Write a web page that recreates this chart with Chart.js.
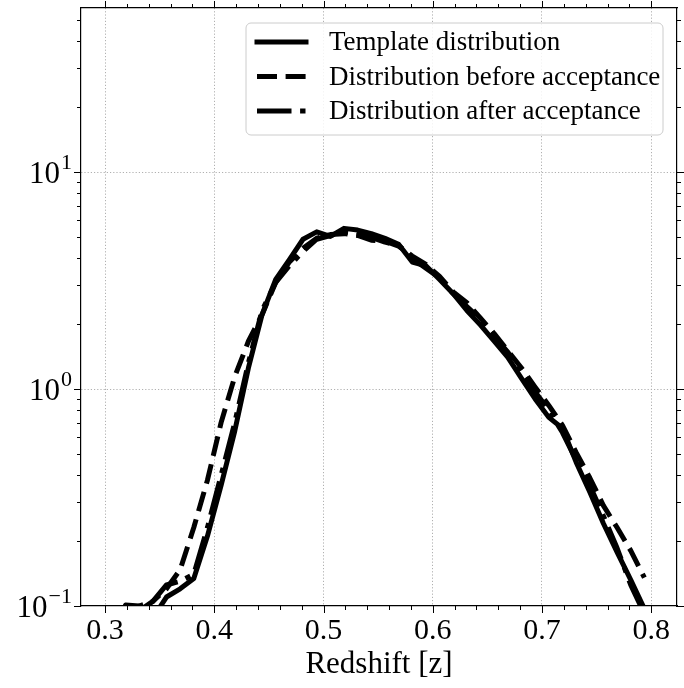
<!DOCTYPE html>
<html lang="en">
<head>
  <meta charset="UTF-8" />
  <title>Redshift distributions</title>
  <script src="https://cdn.jsdelivr.net/npm/chart.js"></script>
  <style>
    html, body { margin: 0; padding: 0; background: #fff; }
    #wrap { width: 684px; height: 688px; }
  </style>
</head>
<body>
  <div id="wrap"><canvas id="zChart" width="684" height="688"></canvas></div>

  <script>
    // bin centres in redshift
    const zBins = [0.30625, 0.31875, 0.33125, 0.34375, 0.35625, 0.36875, 0.38125, 0.39375,
      0.40625, 0.41875, 0.43125, 0.44375, 0.45625, 0.46875, 0.48125, 0.49375,
      0.50625, 0.51875, 0.53125, 0.54375, 0.55625, 0.56875, 0.58125, 0.59375,
      0.60625, 0.61875, 0.63125, 0.64375, 0.65625, 0.66875, 0.68125, 0.69375,
      0.70625, 0.71875, 0.73125, 0.74375, 0.75625, 0.76875, 0.78125, 0.79375];

    const templateDist = [0.07, 0.101, 0.100, 0.088, 0.11, 0.12, 0.134, 0.21,
      0.36, 0.64, 1.25, 2.2, 3.2, 3.95, 4.9, 5.3,
      5.05, 5.5, 5.4, 5.2, 4.95, 4.65, 3.85, 3.7,
      3.2, 2.75, 2.3, 1.97, 1.66, 1.40, 1.12, 0.90,
      0.74, 0.66, 0.46, 0.335, 0.24, 0.177, 0.132, 0.097];

    const beforeAcc = [0.06, 0.08, 0.095, 0.105, 0.12, 0.147, 0.23, 0.38,
      0.70, 1.14, 1.66, 2.2, 3.1, 3.85, 4.45, 4.95,
      5.15, 5.2, 5.1, 4.85, 4.8, 4.55, 4.1, 3.75,
      3.3, 2.8, 2.5, 2.12, 1.8, 1.5, 1.25, 1.02,
      0.84, 0.68, 0.51, 0.39, 0.29, 0.23, 0.18, 0.135];

    const afterAcc = [0.07, 0.09, 0.10, 0.105, 0.125, 0.13, 0.14, 0.23,
      0.40, 0.70, 1.32, 2.3, 3.1, 3.7, 4.3, 4.9,
      5.1, 5.3, 5.2, 5.0, 4.75, 4.6, 4.0, 3.6,
      3.25, 2.75, 2.4, 2.1, 1.75, 1.48, 1.2, 0.97,
      0.8, 0.63, 0.47, 0.36, 0.26, 0.185, 0.125, 0.092];

    const seriesNames = ["Template distribution", "Distribution before acceptance", "Distribution after acceptance"];
    const xTickLabels = ["0.3", "0.4", "0.5", "0.6", "0.7", "0.8"];
    const yTickExponents = ["\u22121", "0", "1"];   // 10^-1, 10^0, 10^1

    const SERIF = "'Liberation Serif', 'Times New Roman', serif";
    const X_MIN = 0.278, X_MAX = 0.8236;
    const Y_MIN = 0.1, Y_MAX = 57;
    const LW = 5;

    function pts(ys) {
      return zBins.map((z, i) => ({ x: z, y: ys[i] }));
    }

    function isMultiple(v, step) {
      const k = Math.round(v / step);
      return Math.abs(v - k * step) < 1e-7;
    }

    // outward tick marks on all four sides, long at majors, short at minors
    const tickMarks = {
      id: 'tickMarks',
      afterDraw(chart) {
        const { ctx, chartArea: a, scales: { x, y } } = chart;
        ctx.save();
        ctx.strokeStyle = '#000';
        ctx.lineWidth = 1;
        ctx.beginPath();
        x.ticks.forEach(t => {
          if (!isMultiple(t.value, 0.02)) return;
          const len = isMultiple(t.value, 0.1) ? 7 : 4;
          const px = Math.round(x.getPixelForValue(t.value)) + 0.5;
          ctx.moveTo(px, a.bottom); ctx.lineTo(px, a.bottom + len);
          ctx.moveTo(px, a.top); ctx.lineTo(px, a.top - len);
        });
        y.ticks.forEach(t => {
          const e = Math.floor(Math.log10(t.value) + 1e-9);
          const m = t.value / Math.pow(10, e);
          if (Math.abs(m - Math.round(m)) > 1e-6) return;
          const len = Math.round(m) === 1 ? 7 : 4;
          const py = Math.round(y.getPixelForValue(t.value)) + 0.5;
          ctx.moveTo(a.left, py); ctx.lineTo(a.left - len, py);
          ctx.moveTo(a.right, py); ctx.lineTo(a.right + len, py);
        });
        ctx.stroke();

        // y labels 10^n
        ctx.fillStyle = '#000';
        ctx.textBaseline = 'middle';
        ctx.textAlign = 'right';
        [0.1, 1, 10].forEach((v, i) => {
          const py = y.getPixelForValue(v);
          const right = a.left - 9;
          ctx.font = '22px ' + SERIF;
          const expText = yTickExponents[i];
          const ew = ctx.measureText(expText).width;
          ctx.fillText(expText, right, py - 9);
          ctx.font = '31px ' + SERIF;
          ctx.fillText('10', right - ew - 1, py + 3);
        });
        ctx.restore();
      }
    };

    // framed legend in the upper right of the plot area
    const boxLegend = {
      id: 'boxLegend',
      afterDraw(chart) {
        const { ctx, chartArea: a } = chart;
        const sets = chart.data.datasets;
        ctx.save();
        ctx.font = '27px ' + SERIF;
        const lineLen = 49, gap = 23, padL = 11, rowH = 34.5;
        const w = 417, h = 112;
        const x0 = a.right - 14 - w;
        const y0 = a.top + 15;
        ctx.beginPath();
        ctx.roundRect(x0, y0, w, h, 5);
        ctx.fillStyle = 'rgba(255,255,255,0.85)';
        ctx.fill();
        ctx.strokeStyle = '#cccccc';
        ctx.lineWidth = 1;
        ctx.stroke();
        sets.forEach((ds, i) => {
          const cy = y0 + 19 + rowH * i;
          ctx.beginPath();
          ctx.setLineDash(ds.borderDash || []);
          ctx.lineWidth = ds.borderWidth;
          ctx.strokeStyle = '#000';
          ctx.lineCap = ds.borderCapStyle;
          ctx.moveTo(x0 + padL, cy);
          ctx.lineTo(x0 + padL + lineLen, cy);
          ctx.stroke();
          ctx.setLineDash([]);
          ctx.fillStyle = '#000';
          ctx.textAlign = 'left';
          ctx.textBaseline = 'middle';
          ctx.fillText(ds.label, x0 + padL + lineLen + gap, cy + 1);
        });
        ctx.restore();
      }
    };

    const lineStyle = {
      borderColor: '#000',
      backgroundColor: '#000',
      borderWidth: LW,
      pointRadius: 0,
      tension: 0,
      fill: false,
      borderJoinStyle: 'round'
    };

    new Chart(document.getElementById('zChart').getContext('2d'), {
      type: 'line',
      data: {
        datasets: [
          Object.assign({ label: seriesNames[0], data: pts(templateDist), borderDash: [], borderCapStyle: 'square' }, lineStyle),
          Object.assign({ label: seriesNames[1], data: pts(beforeAcc), borderDash: [20, 8.6], borderCapStyle: 'butt' }, lineStyle),
          Object.assign({ label: seriesNames[2], data: pts(afterAcc), borderDash: [34.5, 8.6, 5.4, 8.6], borderCapStyle: 'butt' }, lineStyle)
        ]
      },
      options: {
        responsive: false,
        animation: false,
        devicePixelRatio: 1,
        layout: { padding: 0 },
        plugins: {
          legend: { display: false },
          tooltip: { enabled: false }
        },
        scales: {
          x: {
            type: 'linear',
            position: 'bottom',
            min: X_MIN,
            max: X_MAX,
            afterFit: s => { s.height = 82; },
            ticks: {
              stepSize: 0.02,
              autoSkip: false,
              maxRotation: 0,
              padding: 7,
              color: '#000',
              font: { family: SERIF, size: 30 },
              callback: v => isMultiple(v, 0.1) ? xTickLabels[Math.round(v * 10) - 3] : ''
            },
            grid: {
              drawTicks: false,
              lineWidth: 1,
              color: c => (c.tick && isMultiple(c.tick.value, 0.1)) ? '#b0b0b0' : 'rgba(0,0,0,0)'
            },
            border: { display: true, color: '#000', width: 1.2, dash: [1.2, 2] },
            title: {
              display: true,
              text: 'Redshift [z]',
              color: '#000',
              font: { family: SERIF, size: 31 },
              padding: { top: 0, bottom: 5 }
            }
          },
          y: {
            type: 'logarithmic',
            position: 'left',
            min: Y_MIN,
            max: Y_MAX,
            afterFit: s => { s.width = 81; },
            ticks: { display: false, autoSkip: false },
            grid: {
              drawTicks: false,
              lineWidth: 1,
              color: c => {
                if (!c.tick) return 'rgba(0,0,0,0)';
                const v = c.tick.value;
                return (Math.abs(v - 1) < 1e-9 || Math.abs(v - 10) < 1e-9) ? '#b0b0b0' : 'rgba(0,0,0,0)';
              }
            },
            border: { display: true, color: '#000', width: 1.2, dash: [1.2, 2] }
          },
          xTop: {
            type: 'linear',
            position: 'top',
            min: X_MIN,
            max: X_MAX,
            afterFit: s => { s.height = 8; },
            ticks: { display: false },
            grid: { display: false, drawTicks: false },
            border: { display: true, color: '#000', width: 1.2 }
          },
          yRight: {
            type: 'logarithmic',
            position: 'right',
            min: Y_MIN,
            max: Y_MAX,
            afterFit: s => { s.width = 3; },
            ticks: { display: false },
            grid: { display: false, drawTicks: false },
            border: { display: true, color: '#000', width: 1.2 }
          }
        }
      },
      plugins: [tickMarks, boxLegend]
    });
  </script>
</body>
</html>
